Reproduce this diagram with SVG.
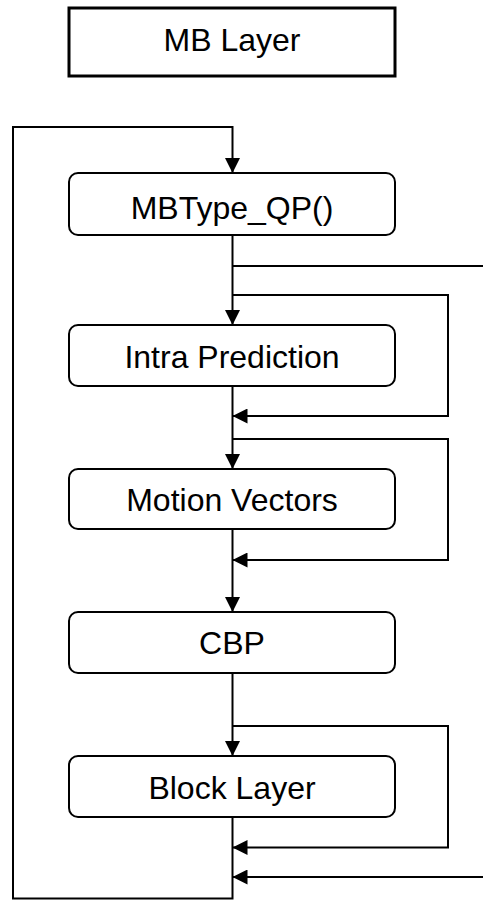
<svg xmlns="http://www.w3.org/2000/svg" width="483" height="900" viewBox="0 0 483 900">
<defs>
<style>
.box{fill:#fff;stroke:#000;stroke-width:2}
.title{fill:#fff;stroke:#000;stroke-width:3}
.lbl{font-family:"Liberation Sans",Arial,sans-serif;font-size:32px;fill:#000;text-anchor:middle}
.c{fill:none;stroke:#000;stroke-width:2}
.a{marker-end:url(#arr)}
</style>
<marker id="arr" viewBox="0 0 15 15" refX="15" refY="7.5" markerWidth="15" markerHeight="15" markerUnits="userSpaceOnUse" orient="auto">
<path d="M0,0 L15,7.5 L0,15 z" fill="#000"/>
</marker>
</defs>
<rect width="483" height="900" fill="#fff"/>
<g id="connectors">
<path class="c a" d="M232.5,817 V898.5 H13 V127 H232.5 V173"/>
<path class="c a" d="M232.5,235 V325"/>
<path class="c" d="M232.5,266 H483"/>
<path class="c a" d="M232.5,295 H448 V416 H232.5"/>
<path class="c a" d="M232.5,386 V469"/>
<path class="c a" d="M232.5,439 H448 V560 H232.5"/>
<path class="c a" d="M232.5,529 V612"/>
<path class="c a" d="M232.5,673 V756"/>
<path class="c a" d="M232.5,726 H448 V847.5 H232.5"/>
<path class="c a" d="M483,877 H232.5"/>
</g>
<g id="mb-layer">
<rect class="title" x="69" y="8" width="326" height="68"/>
<text class="lbl" x="232" y="51">MB Layer</text>
</g>
<g id="mbtype-qp">
<rect class="box" x="69" y="173" width="326" height="62" rx="9"/>
<text class="lbl" x="232" y="219">MBType_QP()</text>
</g>
<g id="intra-prediction">
<rect class="box" x="69" y="325" width="326" height="61" rx="9"/>
<text class="lbl" x="232" y="368">Intra Prediction</text>
</g>
<g id="motion-vectors">
<rect class="box" x="69" y="469" width="326" height="60" rx="9"/>
<text class="lbl" x="232" y="511">Motion Vectors</text>
</g>
<g id="cbp">
<rect class="box" x="69" y="612" width="326" height="61" rx="9"/>
<text class="lbl" x="232" y="654">CBP</text>
</g>
<g id="block-layer">
<rect class="box" x="69" y="756" width="326" height="61" rx="9"/>
<text class="lbl" x="232" y="799">Block Layer</text>
</g>
</svg>
